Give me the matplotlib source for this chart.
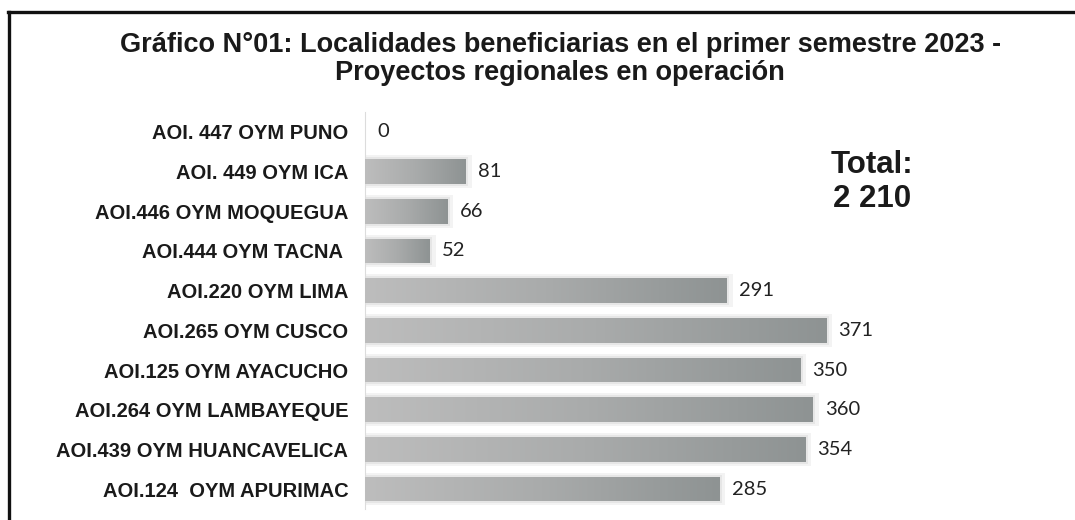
import numpy as np
import matplotlib
matplotlib.use("Agg")
import matplotlib.pyplot as plt
from matplotlib.lines import Line2D
from matplotlib.patches import Rectangle

# datos
localidades = ["AOI. 447 OYM PUNO", "AOI. 449 OYM ICA", "AOI.446 OYM MOQUEGUA",
               "AOI.444 OYM TACNA ", "AOI.220 OYM LIMA", "AOI.265 OYM CUSCO",
               "AOI.125 OYM AYACUCHO", "AOI.264 OYM LAMBAYEQUE",
               "AOI.439 OYM HUANCAVELICA", "AOI.124  OYM APURIMAC"]
valores = [0, 81, 66, 52, 291, 371, 350, 360, 354, 285]
total = "Total:\n2 210"
titulo = "Gráfico N°01: Localidades beneficiarias en el primer semestre 2023 -\nProyectos regionales en operación"

plt.rcParams["font.family"] = ["Liberation Sans", "DejaVu Sans"]

fig = plt.figure(figsize=(10.75, 5.2), dpi=100)
ax = fig.add_axes([365 / 1075, 1 - 509 / 520, (1040 - 365) / 1075, (509 - 112) / 520])

y = np.arange(len(valores))
h = 0.62

# sombra suave detras de las barras
ax.barh(y, [v + 5 if v > 0 else 0 for v in valores], height=h + 0.2,
        color="#f3f3f3", zorder=1)
ax.barh(y, [v + 2 if v > 0 else 0 for v in valores], height=h + 0.1,
        color="#e6e6e6", zorder=1)
bars = ax.barh(y, valores, height=h, color="none", zorder=2)

# degradado gris de izquierda a derecha
grad = np.linspace(0, 1, 256).reshape(1, -1)
cmap = matplotlib.colors.LinearSegmentedColormap.from_list("g", ["#bdbdbd", "#a9abab", "#8e9393"])
for b, v in zip(bars, valores):
    if v <= 0:
        continue
    x0, y0 = b.get_x(), b.get_y()
    im = ax.imshow(grad, cmap=cmap, aspect="auto", zorder=3,
                   extent=[x0, x0 + b.get_width(), y0 + b.get_height(), y0])
    rect = Rectangle((x0, y0), b.get_width(), b.get_height(), transform=ax.transData)
    im.set_clip_path(rect)

for i, v in enumerate(valores):
    ax.text(v + 10, i, str(v), va="center", ha="left", fontsize=14.5,
            family=["Lato", "DejaVu Sans"], color="#222222")

ax.set_xlim(0, (1040 - 365) / 1.243)
ax.set_ylim(len(valores) - 0.5, -0.5)
ax.set_yticks(y)
ax.set_yticklabels(localidades, fontsize=14.5, fontweight="bold", color="#1a1a1a")
ax.tick_params(axis="y", length=0, pad=12)
ax.set_xticks([])
for s in ["top", "right", "bottom"]:
    ax.spines[s].set_visible(False)
ax.spines["left"].set_color("#dcdcdc")
ax.spines["left"].set_linewidth(0.8)

fig.text(0.521, 1 - 59 / 520, titulo, ha="center", va="center", fontsize=19.5,
         fontweight="bold", color="#1a1a1a", linespacing=1.1)
fig.text(872 / 1075, 1 - 182 / 520, total, ha="center", va="center", fontsize=22.5,
         fontweight="bold", color="#1a1a1a", linespacing=1.2)

# marco del grafico
fig.add_artist(Line2D([8 / 1075, 1.0], [1 - 12 / 520] * 2, color="#111111", lw=2.4))
fig.add_artist(Line2D([9 / 1075] * 2, [1 - 12 / 520, 0.0], color="#111111", lw=2.4))

fig.savefig("out.png", dpi=100)
